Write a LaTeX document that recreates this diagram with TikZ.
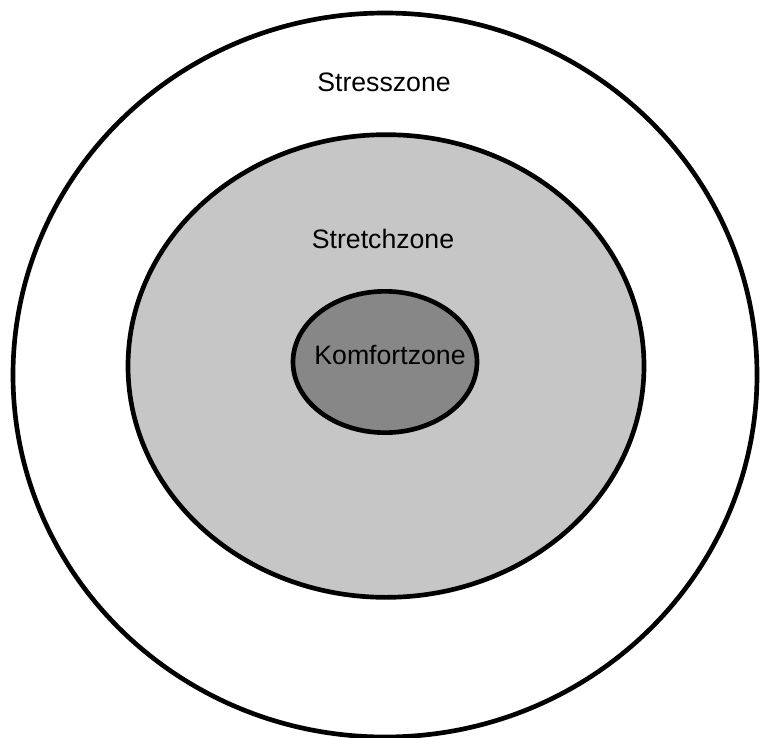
\documentclass[tikz,border=0pt]{standalone}
\usepackage{fontspec}
\setmainfont{Liberation Sans}
\usetikzlibrary{shapes.geometric}
\definecolor{stretchgray}{HTML}{C6C6C6}
\definecolor{komfortgray}{HTML}{878787}

\begin{document}
\begin{tikzpicture}[
    x=0.75pt, y=-0.75pt,
    zone/.style={draw, ellipse, line width=3.5pt, inner sep=0pt},
    zonelabel/.style={font=\fontsize{20}{24}\selectfont}
]
    % Rahmen
    \useasboundingbox (0,0) rectangle (760,738);
    \clip (0,0) rectangle (760,738);

    % drei Zonen
    \node[zone, fill=white, minimum width=558pt, minimum height=543pt] (stress) at (385,375) {};
    \node[zone, fill=stretchgray, minimum width=387pt, minimum height=347pt] (stretch) at (386,366) {};
    \node[zone, fill=komfortgray, minimum width=138pt, minimum height=106pt] (komfort) at (385,362) {};

    % Beschriftungen
    \node[zonelabel] (stresslabel) at (384,82) {Stresszone};
    \node[zonelabel] (stretchlabel) at (383,239) {Stretchzone};
    \node[zonelabel] (komfortlabel) at (390,355) {Komfortzone};
\end{tikzpicture}
\end{document}
